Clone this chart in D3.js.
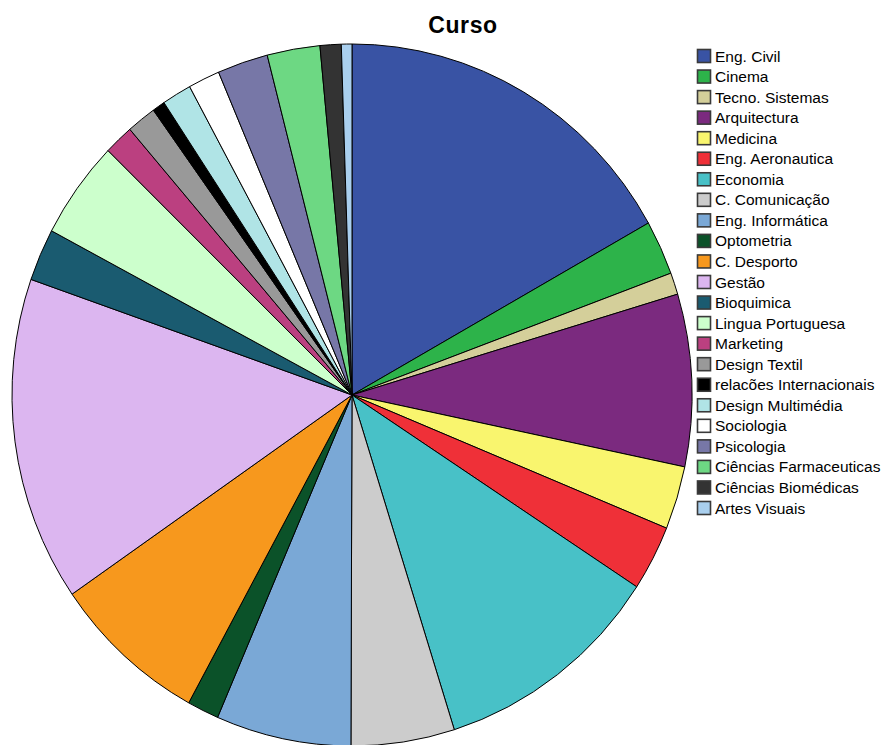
<!DOCTYPE html>
<meta charset="UTF-8">

<head>
    <script src="https://d3js.org/d3.v7.min.js"></script>
    <style>
        body { margin: 0; background: #fff; }
        .slice path {
            stroke: #000;
            stroke-width: 1px;
            vector-effect: non-scaling-stroke;
        }
        .legend text {
            font: 15.5px "Liberation Sans", Arial, sans-serif;
            fill: #000;
        }
        .title {
            font: bold 23px "Liberation Sans", Arial, sans-serif;
            letter-spacing: 0.6px;
        }
    </style>
</head>

<body>
    <script>
        // course names, in the order they are drawn (clockwise from 12 o'clock)
        var cursos = [
            "Eng. Civil", "Cinema", "Tecno. Sistemas", "Arquitectura", "Medicina",
            "Eng. Aeronautica", "Economia", "C. Comunicação", "Eng. Informática",
            "Optometria", "C. Desporto", "Gestão", "Bioquimica", "Lingua Portuguesa",
            "Marketing", "Design Textil", "relacões Internacionais", "Design Multimédia",
            "Sociologia", "Psicologia", "Ciências Farmaceuticas", "Ciências Biomédicas",
            "Artes Visuais"
        ];

        // share of each course (%)
        var percent = [
            16.8, 2.5, 1.0, 7.9, 2.9,
            3.0, 10.9, 4.9, 6.4,
            1.5, 7.4, 14.9, 2.4, 4.5,
            1.4, 1.4, 0.6, 1.4,
            1.5, 2.4, 2.5, 1.0,
            0.5
        ];

        var cores = [
            "#3953a4", "#2db34a", "#d4cf9a", "#7b2a7f", "#f9f56e",
            "#ef3038", "#48c1c7", "#cccccc", "#7aa8d6",
            "#0b5229", "#f7981d", "#dcb6f0", "#1a5b70", "#ccffcc",
            "#bb4080", "#999999", "#000000", "#b0e4e6",
            "#ffffff", "#7777a7", "#6dd883", "#333333",
            "#a9cfee"
        ];

        var width = 887, height = 745;
        var cx = 352, cy = 395, rx = 340, ry = 351;

        var svg = d3.select("body")
            .append("svg")
            .attr("width", width)
            .attr("height", height);

        svg.append("text")
            .attr("class", "title")
            .attr("x", 463)
            .attr("y", 33)
            .attr("text-anchor", "middle")
            .text("Curso");

        var data = cursos.map(function (c, i) {
            return { name: c, value: percent[i], color: cores[i] };
        });

        var pie = d3.pie()
            .sort(null)
            .value(function (d) { return d.value; });

        var arc = d3.arc()
            .innerRadius(0)
            .outerRadius(rx);

        // the original pie is a little taller than it is wide
        var g = svg.append("g")
            .attr("class", "slice")
            .attr("transform", "translate(" + cx + "," + cy + ") scale(1," + (ry / rx) + ")");

        g.selectAll("path")
            .data(pie(data))
            .enter()
            .append("path")
            .attr("d", arc)
            .attr("fill", function (d) { return d.data.color; });

        // legend
        var y = d3.scalePoint()
            .domain(cursos)
            .range([56, 508]);

        var leg = svg.append("g")
            .attr("class", "legend")
            .selectAll("g")
            .data(data)
            .enter()
            .append("g")
            .attr("transform", function (d) { return "translate(697," + y(d.name) + ")"; });

        leg.append("rect")
            .attr("x", 0.5)
            .attr("y", -6.5)
            .attr("width", 13)
            .attr("height", 13)
            .attr("fill", function (d) { return d.color; })
            .attr("stroke", "#3a3a3a")
            .attr("stroke-width", 1.6);

        leg.append("text")
            .attr("x", 18)
            .attr("y", 5.5)
            .text(function (d) { return d.name; });
    </script>
</body>
